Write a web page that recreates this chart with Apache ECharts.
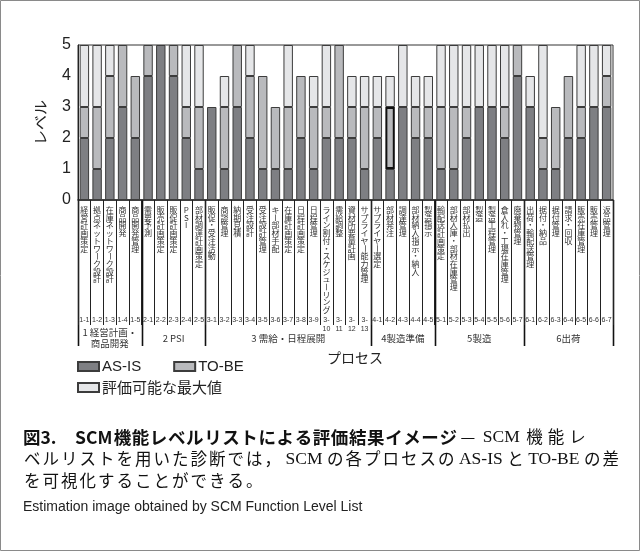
<!DOCTYPE html>
<html>
<head>
<meta charset="utf-8">
<script src="https://cdn.jsdelivr.net/npm/echarts@6/dist/echarts.min.js"></script>
<style>
  html, body { margin: 0; padding: 0; background: #fff; }
  #c { width: 640px; height: 551px; }
</style>
</head>
<body>
<div id="c"></div>
<script>
// Process IDs and names (x categories)
const processIds = [
  '1-1','1-2','1-3','1-4','1-5',
  '2-1','2-2','2-3','2-4','2-5',
  '3-1','3-2','3-3','3-4','3-5','3-6','3-7','3-8','3-9','3-10','3-11','3-12','3-13',
  '4-1','4-2','4-3','4-4','4-5',
  '5-1','5-2','5-3','5-4','5-5','5-6','5-7',
  '6-1','6-2','6-3','6-4','6-5','6-6','6-7'
];
const processNames = [
  '経営計画策定','拠点ネットワーク設計','在庫ネットワーク設計','商品開発','商品開発管理',
  '需要予測','販売計画策定','販促計画策定','PSI','部材調達計画策定',
  '販促・受注活動','商談管理','納期見積','受注設計','受注設計管理','キー部材手配','在庫計画策定',
  '日程計画策定','日程管理','ライン割付・スケジューリング','需給調整','資材所要量計画','サプライヤー能力管理',
  'サプライヤー選定','部材発注','調達管理','部材納入指示・納入','製造指示',
  '輸配送計画策定','部材入庫・部材在庫管理','部材払出','製造','製造工程管理','倉入れ・工場在庫管理','廃棄物管理',
  '出荷・輸配送管理','据付・納品','据付管理','請求・回収','販売在庫管理','販売管理','返品管理'
];
const groupNames = ['1 経営計画・\n商品開発', '2 PSI', '3 需給・日程展開', '4製造準備', '5製造', '6出荷'];
const groupSizes = [5, 5, 13, 5, 7, 7];

// Levels per process
const asIsLevel = [
  2,1,2,3,2,
  4,5,4,2,1,
  3,1,3,2,1,1,1,2,1,2,2,2,1,
  2,1,3,2,2,
  1,1,2,3,3,2,4,
  3,1,1,2,2,3,3
];
const toBeLevel = [
  3,3,4,5,4,
  5,5,5,3,3,
  3,3,5,4,4,3,3,4,3,3,5,3,3,
  3,3,3,3,3,
  3,3,3,3,3,3,5,
  3,2,3,4,3,3,4
];
const maxLevel = [
  5,5,5,5,4,
  5,5,5,5,5,
  3,4,5,5,4,3,5,4,4,5,5,4,4,
  4,4,5,4,4,
  5,5,5,5,5,5,5,
  4,5,3,4,5,5,5
];
const levelTicks = [0, 1, 2, 3, 4, 5];
const highlightedId = '4-2';

const seriesNames = ['AS-IS', 'TO-BE', '評価可能な最大値'];
const colors = ['#7e7f83', '#b9babd', '#e5e6e8'];

const captionTitle = ['図3.', 'SCM機能レベルリストによる評価結果イメージ'];
const captionLines = [
  '—SCM機能レ',
  'ベルリストを用いた診断では，SCMの各プロセスのAS-ISとTO-BEの差',
  'を可視化することができる。'
];
const captionEnglish = 'Estimation image obtained by SCM Function Level List';

const chart = echarts.init(document.getElementById('c'), null, { renderer: 'canvas' });

const segOrNull = v => (v > 0 ? v : null);
const asIsData = asIsLevel.map(v => v);
const toBeData = toBeLevel.map((v, i) => {
  const d = segOrNull(v - asIsLevel[i]);
  if (processIds[i] === highlightedId && d !== null) {
    return { value: d, itemStyle: { borderWidth: 2, borderColor: '#111' } };
  }
  return d;
});
const maxData = maxLevel.map((v, i) => segOrNull(v - toBeLevel[i]));

const sans = '"Liberation Sans", "Noto Sans CJK JP", sans-serif';
const jp = '"Noto Sans CJK JP", sans-serif';
const serif = '"Liberation Serif", "Noto Sans CJK JP", serif';

const barStyle = c => ({ color: c, borderColor: '#3c3c3c', borderWidth: 1 });

const option = {
  animation: false,
  backgroundColor: '#fff',
  grid: { left: 78, right: 27, top: 45, bottom: 351, show: true, borderColor: '#333', borderWidth: 1, backgroundColor: 'transparent' },
  legend: [
    {
      data: ['AS-IS', 'TO-BE'], left: 77, top: 359, padding: 0, icon: 'rect',
      itemWidth: 21, itemHeight: 9, itemGap: 32, selectedMode: false,
      textStyle: { fontFamily: sans, fontSize: 15, color: '#222', padding: [0, 0, 0, -2] }
    },
    {
      data: ['評価可能な最大値'], left: 77, top: 380, padding: 0, icon: 'rect',
      itemWidth: 21, itemHeight: 9, selectedMode: false,
      textStyle: { fontFamily: jp, fontSize: 15, color: '#222', padding: [0, 0, 0, -2] }
    }
  ],
  xAxis: {
    type: 'category',
    data: processIds,
    boundaryGap: true,
    axisLine: { lineStyle: { color: '#222', width: 1.5 } },
    axisTick: { show: true, interval: 0, length: 125, lineStyle: { color: '#222', width: 1 } },
    axisLabel: {
      interval: 0, margin: 116, fontSize: 7, lineHeight: 9, color: '#333', fontFamily: sans,
      formatter: v => {
        const p = v.split('-');
        return p[1].length > 1 ? p[0] + '-\n' + p[1] : v;
      }
    },
    splitLine: { show: false }
  },
  yAxis: {
    type: 'value', min: 0, max: 5, interval: 1,
    name: 'レベル', nameLocation: 'middle', nameGap: 30,
    nameTextStyle: { fontFamily: jp, fontSize: 15, color: '#222' },
    axisLine: { show: true, lineStyle: { color: '#222', width: 1 } },
    axisTick: { show: false },
    splitLine: { show: false },
    axisLabel: {
      margin: 7, fontSize: 16, color: '#222', fontFamily: sans,
      formatter: v => (levelTicks.includes(v) ? String(v) : '')
    }
  },
  series: [
    { name: seriesNames[0], type: 'bar', stack: 'lv', data: asIsData, barCategoryGap: '26%', itemStyle: barStyle(colors[0]) },
    { name: seriesNames[1], type: 'bar', stack: 'lv', data: toBeData, itemStyle: barStyle(colors[1]) },
    { name: seriesNames[2], type: 'bar', stack: 'lv', data: maxData, itemStyle: barStyle(colors[2]) }
  ]
};

chart.setOption(option);

// Vertical process names, group separators, group labels and caption
const px = i => chart.convertToPixel({ xAxisIndex: 0 }, processIds[i]);
const yBase = chart.convertToPixel({ yAxisIndex: 0 }, 0);
const band = px(1) - px(0);
const g = [];

const charStep = 7.7;
processNames.forEach((name, i) => {
  const cx = px(i);
  Array.from(name).forEach((ch, k) => {
    const rotated = ch === 'ー';
    g.push({
      type: 'text',
      x: cx, y: yBase + 10 + k * charStep,
      rotation: rotated ? -Math.PI / 2 : 0,
      style: {
        text: ch, fontFamily: jp, fontSize: 8, fill: '#333',
        align: 'center', verticalAlign: 'middle'
      },
      silent: true
    });
  });
});

let start = 0;
const bounds = [];
groupSizes.forEach(n => { bounds.push(start); start += n; });
bounds.push(start);
bounds.forEach(b => {
  const xb = b < processIds.length ? px(b) - band / 2 : px(processIds.length - 1) + band / 2;
  g.push({
    type: 'line',
    shape: { x1: Math.round(xb) + 0.5, y1: yBase, x2: Math.round(xb) + 0.5, y2: yBase + 146 },
    style: { stroke: '#111', lineWidth: 1.6 },
    silent: true
  });
});
groupNames.forEach((gn, j) => {
  const a = px(bounds[j]) - band / 2;
  const b = px(bounds[j + 1] - 1) + band / 2;
  g.push({
    type: 'text',
    x: (a + b) / 2, y: yBase + 138,
    style: {
      text: gn, fontFamily: jp, fontSize: 9.5, fill: '#333', lineHeight: 11,
      align: 'center', verticalAlign: 'middle'
    },
    silent: true
  });
});

g.push({
  type: 'text', x: 355, y: 358,
  style: { text: 'プロセス', fontFamily: jp, fontSize: 14, fill: '#222', align: 'center', verticalAlign: 'middle' },
  silent: true
});

// Caption: Japanese runs set on a fixed character pitch, Latin runs padded
const isLatin = ch => /[A-Za-z0-9\-.]/.test(ch);
function setRuns(text, cjkStyle, latinStyle) {
  let out = '';
  let latin = '';
  const flush = () => { if (latin) { out += '{' + latinStyle + '|' + latin + '}'; latin = ''; } };
  for (const ch of Array.from(text)) {
    if (isLatin(ch)) { latin += ch; }
    else { flush(); out += '{' + cjkStyle + '|' + ch + '}'; }
  }
  flush();
  return out;
}
const captionRich = {
  bh: { fontFamily: jp, fontWeight: 'bold', fontSize: 17.5, fill: '#111', width: 40, padding: [0, 12, 0, 0] },
  bl: { fontFamily: jp, fontWeight: 'bold', fontSize: 17.5, fill: '#111', padding: [0, 1, 0, 0] },
  bc: { fontFamily: jp, fontWeight: 'bold', fontSize: 17.5, fill: '#111', width: 18.1, align: 'center' },
  c1: { fontFamily: jp, fontSize: 16.5, fill: '#111', width: 21.5, align: 'center' },
  l1: { fontFamily: serif, fontSize: 17.5, fill: '#111', padding: [0, 4, 0, 4] },
  c: { fontFamily: jp, fontSize: 16.5, fill: '#111', width: 18.5, align: 'center' },
  l: { fontFamily: serif, fontSize: 17.5, fill: '#111', padding: [0, 3.5, 0, 3.5] }
};
const line1 = '{bh|' + captionTitle[0] + '}' + setRuns(captionTitle[1], 'bc', 'bl') + setRuns(captionLines[0], 'c1', 'l1');
[line1, setRuns(captionLines[1], 'c', 'l'), setRuns(captionLines[2], 'c', 'l')].forEach((t, k) => {
  g.push({
    type: 'text', x: 23, y: 437 + k * 22,
    style: { text: t, verticalAlign: 'middle', rich: captionRich },
    silent: true
  });
});
g.push({
  type: 'text', x: 23, y: 507,
  style: { text: captionEnglish, fontFamily: sans, fontSize: 14, fill: '#222', verticalAlign: 'middle' },
  silent: true
});

// Figure frame
g.push({
  type: 'rect',
  shape: { x: 0.5, y: 0.5, width: 639, height: 550 },
  style: { fill: 'none', stroke: '#8a8a8a', lineWidth: 1 },
  silent: true
});

chart.setOption({ graphic: g });
</script>
</body>
</html>
